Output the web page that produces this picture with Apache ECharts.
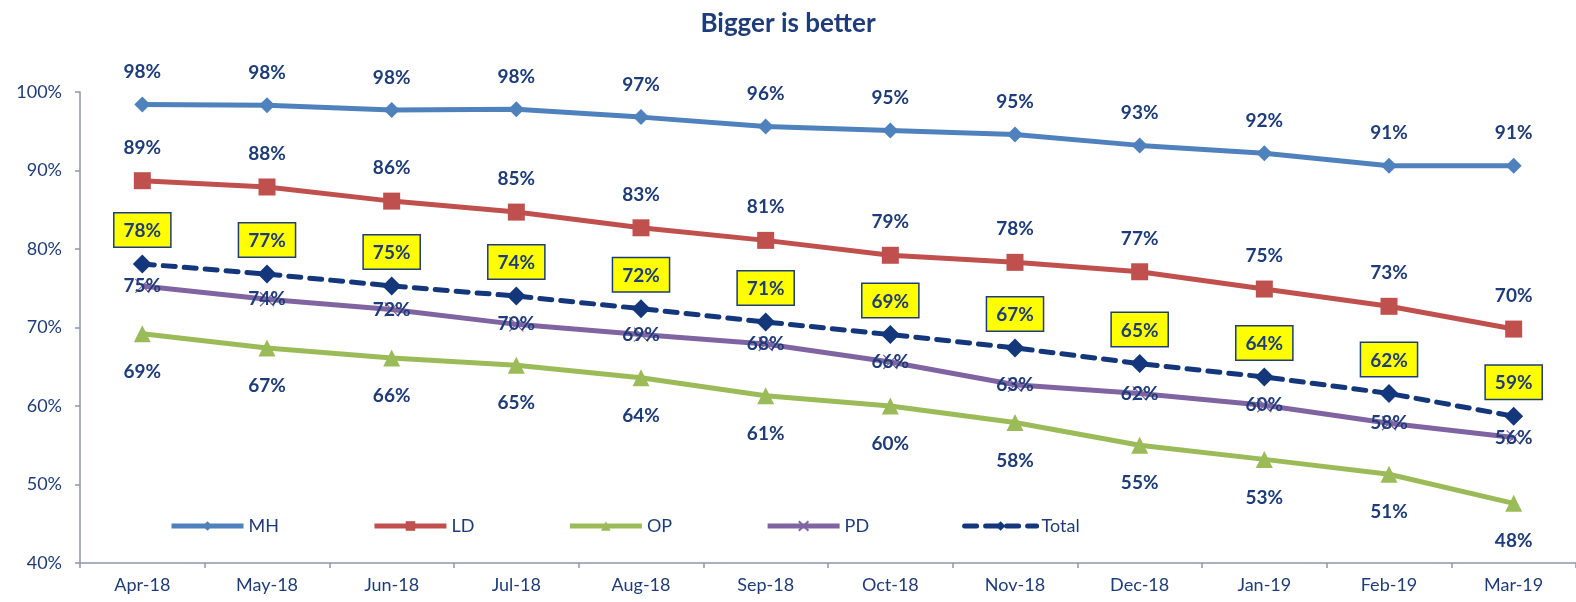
<!DOCTYPE html>
<html>
<head>
<meta charset="utf-8">
<script src="https://cdn.jsdelivr.net/npm/echarts@6/dist/echarts.min.js"></script>
<style>
  html, body { margin: 0; padding: 0; background: #fff; }
  #chart { width: 1576px; height: 602px; }
</style>
</head>
<body>
<div id="chart"></div>
<script>
// months on the x axis
const months = ['Apr-18', 'May-18', 'Jun-18', 'Jul-18', 'Aug-18', 'Sep-18',
                'Oct-18', 'Nov-18', 'Dec-18', 'Jan-19', 'Feb-19', 'Mar-19'];

// values in percent
const mhData    = [98.4, 98.3, 97.7, 97.8, 96.8, 95.6, 95.1, 94.6, 93.2, 92.2, 90.6, 90.6];
const ldData    = [88.7, 87.9, 86.1, 84.7, 82.7, 81.1, 79.2, 78.3, 77.1, 74.9, 72.7, 69.8];
const opData    = [69.2, 67.4, 66.1, 65.2, 63.6, 61.3, 60.0, 57.9, 55.0, 53.2, 51.3, 47.6];
const pdData    = [75.3, 73.6, 72.3, 70.4, 69.1, 67.9, 65.6, 62.7, 61.6, 60.1, 57.8, 56.0];
const totalData = [78.1, 76.8, 75.3, 74.0, 72.4, 70.7, 69.1, 67.4, 65.4, 63.7, 61.6, 58.7];

const yTicks = [40, 50, 60, 70, 80, 90, 100];

const navy = '#1F3C7A';
const axisGrey = '#8E95AE';
const pct = p => Math.round(p.value) + '%';

function baseLabel(position, dist) {
    return {
        show: true,
        position: position,
        distance: dist,
        formatter: pct,
        color: navy,
        fontFamily: 'Lato',
        fontWeight: 'bold',
        fontSize: 19
    };
}

const chart = echarts.init(document.getElementById('chart'));

const option = {
    animation: false,
    title: {
        text: 'Bigger is better',
        left: 'center',
        top: 6,
        textStyle: { color: navy, fontFamily: 'Lato', fontWeight: 'bold', fontSize: 26 }
    },
    legend: {
        left: 164,
        top: 512,
        itemWidth: 72,
        itemHeight: 12,
        itemGap: 93,
        lineStyle: { width: 5 },
        textStyle: { color: navy, fontFamily: 'Lato', fontSize: 18 },
        data: ['MH', 'LD', 'OP', 'PD', 'Total']
    },
    grid: { left: 80, right: -4, top: 92, bottom: 39 },
    xAxis: {
        type: 'category',
        data: months,
        axisLine: { lineStyle: { color: axisGrey, width: 1.5 } },
        axisTick: { show: true, length: 5, lineStyle: { color: axisGrey, width: 1.5 } },
        axisLabel: { color: navy, fontFamily: 'Lato', fontSize: 18, margin: 13 }
    },
    yAxis: {
        type: 'value',
        min: yTicks[0],
        max: yTicks[yTicks.length - 1],
        interval: 10,
        splitLine: { show: false },
        axisLine: { show: true, lineStyle: { color: axisGrey, width: 1.5 } },
        axisTick: { show: true, length: 5, lineStyle: { color: axisGrey, width: 1.5 } },
        axisLabel: { color: navy, fontFamily: 'Lato', fontSize: 18, margin: 18, formatter: '{value}%' }
    },
    series: [
        {
            name: 'MH', type: 'line', data: mhData,
            symbol: 'diamond', symbolSize: 16,
            lineStyle: { color: '#4F81BD', width: 5 },
            itemStyle: { color: '#4F81BD' },
            label: baseLabel('top', 15)
        },
        {
            name: 'LD', type: 'line', data: ldData,
            symbol: 'rect', symbolSize: 17,
            lineStyle: { color: '#C0504D', width: 5 },
            itemStyle: { color: '#C0504D' },
            label: baseLabel('top', 15)
        },
        {
            name: 'OP', type: 'line', data: opData,
            symbol: 'triangle', symbolSize: 17,
            lineStyle: { color: '#9BBB59', width: 5 },
            itemStyle: { color: '#9BBB59' },
            label: baseLabel('bottom', 20)
        },
        {
            name: 'PD', type: 'line', data: pdData,
            symbol: 'path://M0,0L10,10M10,0L0,10', symbolSize: 14,
            lineStyle: { color: '#8064A2', width: 5 },
            itemStyle: { color: '#8064A2', borderColor: '#8064A2', borderWidth: 1.2 },
            label: baseLabel('inside', 0)
        },
        {
            name: 'Total', type: 'line', data: totalData,
            symbol: 'diamond', symbolSize: 19,
            z: 5,
            lineStyle: { color: '#13377A', width: 5, type: [12, 9], cap: 'round' },
            itemStyle: { color: '#13377A' },
            label: Object.assign(baseLabel('top', 8), {
                backgroundColor: '#FFFF00',
                borderColor: navy,
                borderWidth: 1.5,
                padding: [8, 9, 6, 9]
            })
        }
    ]
};

chart.setOption(option);
</script>
</body>
</html>
